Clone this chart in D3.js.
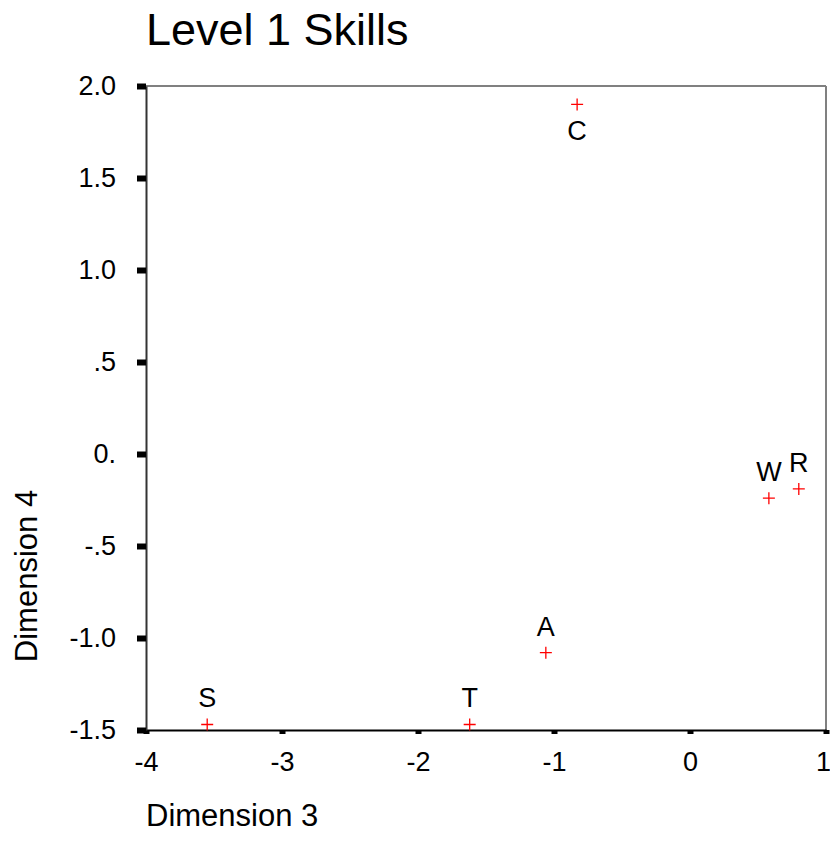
<!DOCTYPE html>
<html>
<head>
<meta charset="utf-8">
<script src="https://cdn.jsdelivr.net/npm/d3@7"></script>
<style>
  body { margin: 0; background: #fff; }
  text { font-family: "Liberation Sans", Arial, sans-serif; }
</style>
</head>
<body>
<div id="chart"></div>
<script>
// skill coordinates (dimension 3 vs dimension 4)
const labels = ["C", "W", "R", "A", "S", "T"];
const dim3 = [-0.83, 0.58, 0.80, -1.06, -3.55, -1.62];
const dim4 = [1.90, -0.24, -0.19, -1.08, -1.47, -1.47];
// label placed below the point (1) or above (-1)
const labelSide = [1, -1, -1, -1, -1, -1];

const xTicks = [-4, -3, -2, -1, 0, 1];
const xTickLabels = ["-4", "-3", "-2", "-1", "0", "1"];
const yTicks = [2.0, 1.5, 1.0, 0.5, 0, -0.5, -1.0, -1.5];
const yTickLabels = ["2.0", "1.5", "1.0", ".5", "0.", "-.5", "-1.0", "-1.5"];

const W = 830, H = 857;
const plotL = 146, plotR = 826, plotT = 86, plotB = 730;

const svg = d3.select("#chart").append("svg")
    .attr("width", W)
    .attr("height", H);

const x = d3.scaleLinear().domain([-4, 1]).range([plotL, plotR]);
const y = d3.scaleLinear().domain([-1.5, 2.0]).range([plotB, plotT]);

// frame: top and right in grey
svg.append("line").attr("x1", plotL).attr("x2", plotR).attr("y1", plotT).attr("y2", plotT)
    .attr("stroke", "#808080").attr("stroke-width", 2);
svg.append("line").attr("x1", plotR).attr("x2", plotR).attr("y1", plotT).attr("y2", plotB)
    .attr("stroke", "#808080").attr("stroke-width", 2);

// axes
const xAxis = svg.append("g")
    .attr("transform", `translate(0,${plotB})`)
    .call(d3.axisBottom(x).tickValues(xTicks)
        .tickFormat((d, i) => xTickLabels[i]).tickSizeInner(4).tickSizeOuter(0).tickPadding(18));
xAxis.select(".domain").attr("stroke", "#000").attr("stroke-width", 2);
xAxis.selectAll(".tick line").attr("stroke", "#000").attr("stroke-width", 6);
xAxis.selectAll(".tick text").attr("font-size", 27).attr("fill", "#000")
    .attr("font-family", "Liberation Sans, Arial, sans-serif");
// last label sits on the window edge, nudge it in a little
xAxis.selectAll(".tick text").filter((d, i) => i === xTicks.length - 1).attr("dx", -3);

const yAxis = svg.append("g")
    .attr("transform", `translate(${plotL},0)`)
    .call(d3.axisLeft(y).tickValues(yTicks)
        .tickFormat((d, i) => yTickLabels[i]).tickSizeInner(9).tickSizeOuter(0).tickPadding(21));
yAxis.select(".domain").attr("stroke", "#333").attr("stroke-width", 2);
yAxis.selectAll(".tick line").attr("stroke", "#000").attr("stroke-width", 6);
yAxis.selectAll(".tick text").attr("font-size", 27).attr("fill", "#000")
    .attr("font-family", "Liberation Sans, Arial, sans-serif");

// points as red plus markers
const pts = svg.append("g").selectAll("g")
    .data(labels.map((l, i) => ({ label: l, x: dim3[i], y: dim4[i], side: labelSide[i] })))
    .enter().append("g")
    .attr("transform", d => `translate(${x(d.x)},${y(d.y)})`);

pts.append("path")
    .attr("d", "M-6,0H6M0,-6V6")
    .attr("stroke", "#ff0000")
    .attr("stroke-width", 1.3)
    .attr("fill", "none");

pts.append("text")
    .attr("text-anchor", "middle")
    .attr("y", d => d.side > 0 ? 36 : -17)
    .attr("font-size", 27)
    .attr("fill", "#000")
    .text(d => d.label);

// titles
svg.append("text")
    .attr("x", plotL)
    .attr("y", 45)
    .attr("font-size", 45)
    .text("Level 1 Skills");

svg.append("text")
    .attr("x", plotL)
    .attr("y", 826)
    .attr("font-size", 31)
    .text("Dimension 3");

svg.append("text")
    .attr("transform", "translate(37,576) rotate(-90)")
    .attr("text-anchor", "middle")
    .attr("font-size", 31)
    .text("Dimension 4");
</script>
</body>
</html>
